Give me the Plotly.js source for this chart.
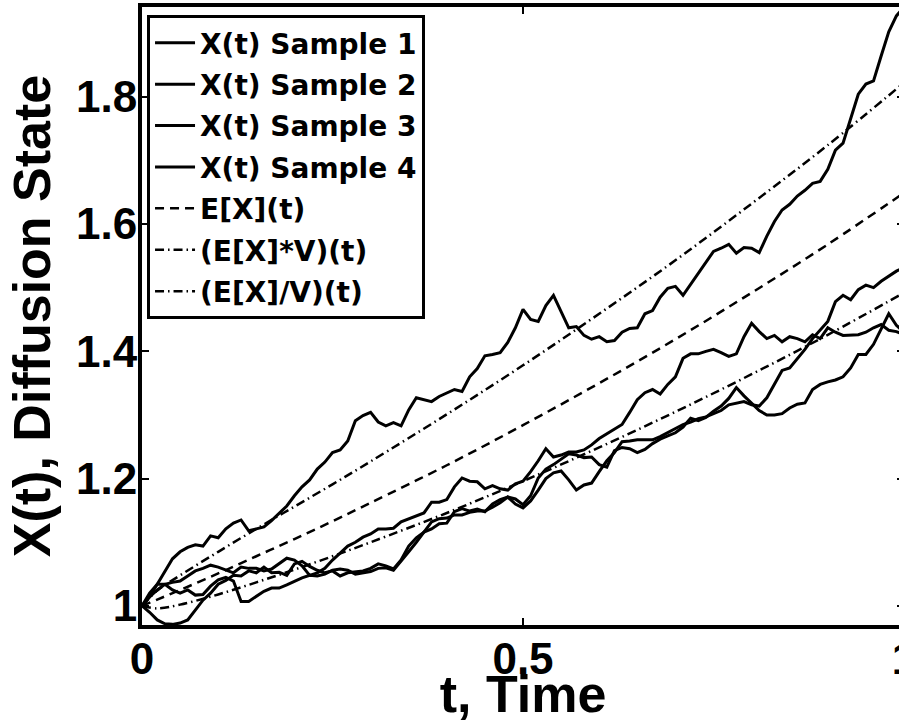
<!DOCTYPE html>
<html>
<head>
<meta charset="utf-8">
<script src="https://cdn.plot.ly/plotly-3.0.1.min.js"></script>
<style>
html, body { margin: 0; padding: 0; background: #fff; overflow: hidden; }
#chart { width: 920px; height: 723px; }
</style>
</head>
<body>
<div id="chart"></div>
<script>
// time grid
const t = [0.00,0.01,0.02,0.03,0.04,0.05,0.06,0.07,0.08,0.09,
0.10,0.11,0.12,0.13,0.14,0.15,0.16,0.17,0.18,0.19,
0.20,0.21,0.22,0.23,0.24,0.25,0.26,0.27,0.28,0.29,
0.30,0.31,0.32,0.33,0.34,0.35,0.36,0.37,0.38,0.39,
0.40,0.41,0.42,0.43,0.44,0.45,0.46,0.47,0.48,0.49,
0.50,0.51,0.52,0.53,0.54,0.55,0.56,0.57,0.58,0.59,
0.60,0.61,0.62,0.63,0.64,0.65,0.66,0.67,0.68,0.69,
0.70,0.71,0.72,0.73,0.74,0.75,0.76,0.77,0.78,0.79,
0.80,0.81,0.82,0.83,0.84,0.85,0.86,0.87,0.88,0.89,
0.90,0.91,0.92,0.93,0.94,0.95,0.96,0.97,0.98,0.99,1.00];

const sample1 = [1.000,1.015,1.034,1.055,1.074,1.085,1.092,1.096,1.094,1.110,
1.107,1.121,1.130,1.135,1.118,1.121,1.124,1.134,1.145,1.157,
1.173,1.187,1.198,1.215,1.226,1.241,1.245,1.259,1.291,1.299,
1.304,1.289,1.283,1.288,1.283,1.308,1.327,1.324,1.321,1.329,
1.335,1.340,1.337,1.360,1.373,1.393,1.395,1.398,1.414,1.437,
1.466,1.450,1.447,1.472,1.488,1.463,1.437,1.439,1.425,1.419,
1.423,1.415,1.417,1.430,1.436,1.437,1.459,1.464,1.485,1.499,
1.502,1.488,1.505,1.521,1.540,1.557,1.562,1.568,1.554,1.563,
1.562,1.555,1.581,1.604,1.622,1.631,1.644,1.653,1.664,1.667,
1.686,1.716,1.727,1.765,1.804,1.820,1.825,1.864,1.902,1.927,1.941];

const sample2 = [1.000,0.990,0.978,0.972,0.971,0.973,0.978,0.993,1.009,1.020,
1.034,1.040,1.048,1.047,1.055,1.052,1.061,1.052,1.053,1.048,
1.066,1.070,1.062,1.056,1.052,1.055,1.047,1.052,1.053,1.055,
1.059,1.066,1.063,1.058,1.072,1.094,1.107,1.116,1.132,1.137,
1.138,1.143,1.143,1.147,1.149,1.149,1.155,1.162,1.171,1.160,
1.154,1.165,1.182,1.200,1.209,1.212,1.198,1.182,1.190,1.193,
1.211,1.228,1.241,1.258,1.259,1.261,1.261,1.261,1.266,1.272,
1.278,1.285,1.289,1.294,1.297,1.302,1.307,1.316,1.319,1.321,
1.316,1.314,1.327,1.348,1.370,1.374,1.389,1.403,1.420,1.434,
1.447,1.478,1.488,1.481,1.497,1.504,1.500,1.510,1.518,1.526,1.532];

const sample3 = [1.000,1.014,1.025,1.034,1.037,1.039,1.047,1.055,1.059,1.064,
1.061,1.056,1.052,1.061,1.059,1.059,1.055,1.058,1.066,1.075,
1.072,1.063,1.048,1.052,1.059,1.072,1.083,1.094,1.100,1.108,
1.113,1.121,1.121,1.122,1.132,1.137,1.141,1.146,1.163,1.163,
1.167,1.187,1.201,1.196,1.195,1.184,1.189,1.184,1.182,1.192,
1.196,1.211,1.228,1.247,1.234,1.237,1.242,1.242,1.245,1.253,
1.263,1.270,1.278,1.285,1.304,1.324,1.335,1.340,1.333,1.348,
1.360,1.389,1.396,1.396,1.400,1.403,1.398,1.392,1.396,1.423,
1.444,1.431,1.420,1.425,1.415,1.423,1.420,1.415,1.426,1.420,
1.437,1.430,1.425,1.426,1.426,1.430,1.437,1.442,1.433,1.431,1.426];

const sample4 = [1.000,1.020,1.034,1.034,1.025,1.020,1.025,1.017,1.018,1.031,
1.041,1.045,1.039,1.007,1.007,1.015,1.023,1.028,1.028,1.033,
1.039,1.044,1.048,1.047,1.050,1.056,1.058,1.056,1.050,1.052,
1.054,1.059,1.060,1.056,1.070,1.085,1.100,1.116,1.121,1.129,
1.130,1.148,1.153,1.149,1.152,1.148,1.160,1.167,1.171,1.168,
1.159,1.173,1.201,1.215,1.222,1.230,1.239,1.237,1.233,1.234,
1.222,1.218,1.244,1.249,1.247,1.241,1.246,1.255,1.262,1.267,
1.272,1.281,1.295,1.291,1.296,1.306,1.314,1.326,1.343,1.330,
1.318,1.307,1.300,1.300,1.302,1.311,1.317,1.319,1.340,1.348,
1.352,1.355,1.360,1.374,1.395,1.395,1.411,1.434,1.459,1.441,1.430];

// smooth moment curves
const tm = [0, 0.02, 0.05, 0.1, 0.15, 0.2, 0.25, 0.3, 0.4, 0.5, 0.6, 0.7, 0.8, 0.9, 1.0];
const meanX = [1.000, 1.010, 1.025, 1.051, 1.078, 1.105, 1.133, 1.162, 1.221, 1.284, 1.350, 1.419, 1.492, 1.568, 1.649];
const meanTimesV = [1.000, 1.024, 1.048, 1.085, 1.121, 1.156, 1.191, 1.227, 1.301, 1.378, 1.459, 1.543, 1.632, 1.724, 1.822];
const meanOverV = [1.000, 0.996, 1.002, 1.018, 1.037, 1.057, 1.078, 1.100, 1.146, 1.196, 1.249, 1.305, 1.364, 1.426, 1.492];

const names = ['X(t) Sample 1','X(t) Sample 2','X(t) Sample 3','X(t) Sample 4','E[X](t)','(E[X]*V)(t)','(E[X]/V)(t)'];
const xTickVals = [0, 0.5, 1];
const xTickText = ['0', '0.5', '1'];
const yTickVals = [1, 1.2, 1.4, 1.6, 1.8];
const yTickText = ['1', '1.2', '1.4', '1.6', '1.8'];

const samples = [sample1, sample2, sample3, sample4];
const traces = [];
samples.forEach((s, i) => {
  traces.push({x: t, y: s, mode: 'lines', name: names[i], legendgroup: 'g' + i,
    line: {color: '#000', width: 3}});
});
traces.push({x: tm, y: meanX, mode: 'lines', name: names[4], legendgroup: 'g4',
  line: {color: '#000', width: 2.5, dash: '9px,6px', shape: 'spline'}});
traces.push({x: tm, y: meanTimesV, mode: 'lines', name: names[5], legendgroup: 'g5',
  line: {color: '#000', width: 2.5, dash: '9px,4px,1.5px,4px', shape: 'spline'}});
traces.push({x: tm, y: meanOverV, mode: 'lines', name: names[6], legendgroup: 'g6',
  line: {color: '#000', width: 2.5, dash: '9px,4px,1.5px,4px', shape: 'spline'}});

const tickFont = {family: 'Liberation Sans, Arial, sans-serif', size: 44, weight: 'bold', color: '#000'};
const titleFont = {family: 'Liberation Sans, Arial, sans-serif', size: 52, weight: 'bold', color: '#000'};

const layout = {
  width: 920, height: 723,
  margin: {l: 142, r: 16, t: 7, b: 98, pad: 0},
  paper_bgcolor: '#fff', plot_bgcolor: '#fff',
  showlegend: true,
  xaxis: {
    range: [0, 1], tickvals: xTickVals, ticktext: xTickText,
    showgrid: false, zeroline: false, showline: true, linewidth: 4, linecolor: '#000',
    mirror: 'ticks', ticks: 'inside', ticklen: 7, tickwidth: 2, tickcolor: '#000',
    tickfont: tickFont, ticklabelstandoff: -8,
    title: {text: 't, Time', font: titleFont}
  },
  yaxis: {
    range: [0.970, 1.941], tickvals: yTickVals, ticktext: yTickText,
    showgrid: false, zeroline: false, showline: true, linewidth: 4, linecolor: '#000',
    mirror: 'ticks', ticks: 'inside', ticklen: 7, tickwidth: 2, tickcolor: '#000',
    tickfont: tickFont, ticklabelstandoff: -8, automargin: true,
    title: {text: 'X(t), Diffusion State', font: titleFont, standoff: 10}
  },
  legend: {
    x: 0.0066, y: 0.987, xanchor: 'left', yanchor: 'top',
    bgcolor: '#fff', bordercolor: '#000', borderwidth: 3,
    font: {family: 'DejaVu Sans, sans-serif', size: 28, weight: 'bold', color: '#000'},
    traceorder: 'grouped', tracegroupgap: 2, itemwidth: 40
  }
};

Plotly.newPlot('chart', traces, layout, {staticPlot: true, displayModeBar: false});
</script>
</body>
</html>
